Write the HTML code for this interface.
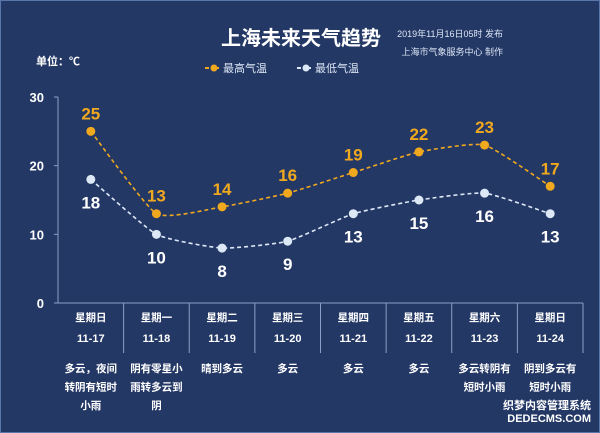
<!DOCTYPE html>
<html><head><meta charset="utf-8">
<style>
html,body{margin:0;padding:0;background:#253a68;}
#wrap{position:relative;width:600px;height:433px;overflow:hidden;background:#243866;box-sizing:border-box;border:1px solid #5a75a8;font-family:"Liberation Sans","Noto Sans CJK SC",sans-serif;}
svg{position:absolute;left:0;top:0;}
</style></head><body>
<div id="wrap">
<svg id="chart" width="600" height="433">
<text x="300" y="44" fill="#fff" font-size="20" font-weight="bold" text-anchor="middle">上海未来天气趋势</text>
<text x="502" y="36" fill="#dde6f5" font-size="9" text-anchor="end">2019年11月16日05时 发布</text>
<text x="502" y="54" fill="#dde6f5" font-size="9" text-anchor="end">上海市气象服务中心 制作</text>
<text x="35" y="64" fill="#fff" font-size="11" font-weight="bold">单位：℃</text>
<g>
<line x1="204" y1="67" x2="218" y2="67" stroke="#f0a81e" stroke-width="2" stroke-dasharray="4,2"/>
<circle cx="213" cy="67" r="3.5" fill="#f0a81e"/>
<text x="222" y="71" fill="#dde6f5" font-size="11">最高气温</text>
</g>
<g>
<line x1="296" y1="67" x2="310" y2="67" stroke="#dce8f5" stroke-width="2" stroke-dasharray="4,2"/>
<circle cx="305" cy="67" r="3.5" fill="#dce8f5"/>
<text x="314" y="71" fill="#dde6f5" font-size="11">最低气温</text>
</g>
<g id="axes"></g>
<g id="marks"></g>
</svg>
<div style="position:absolute;right:8px;bottom:6px;color:#fff;font-size:11px;line-height:13px;text-align:right;font-weight:bold">织梦内容管理系统<br>DEDECMS.COM</div>
</div>
<script>
const days=["星期日","星期一","星期二","星期三","星期四","星期五","星期六","星期日"];
const dates=["11-17","11-18","11-19","11-20","11-21","11-22","11-23","11-24"];
const highs=[25,13,14,16,19,22,23,17];
const lows=[18,10,8,9,13,15,16,13];
const yTicks=[0,10,20,30];
const descs=[["多云，夜间","转阴有短时","小雨"],["阴有零星小","雨转多云到","阴"],["晴到多云"],["多云"],["多云"],["多云"],["多云转阴有","短时小雨"],["阴到多云有","短时小雨"]];

const NS="http://www.w3.org/2000/svg";
const x0=57,x1=582,y0=302,yTop=96;
const colW=(x1-x0)/days.length;
function xs(i){return x0+colW*(i+0.5);}
function ys(v){return y0-(y0-yTop)*v/30;}
function mk(tag,attrs,parent,text){const e=document.createElementNS(NS,tag);for(const k in attrs)e.setAttribute(k,attrs[k]);if(text!==undefined)e.textContent=text;parent.appendChild(e);return e;}
const axes=document.getElementById('axes'),marks=document.getElementById('marks');
let e=mk('line',{x1:x0,y1:yTop,x2:x0,y2:y0,stroke:'#8aa0c8','stroke-width':1},axes);


e=mk('line',{x1:x0-4,y1:y0,x2:x1,y2:y0,stroke:'#8aa0c8','stroke-width':1},axes);


yTicks.forEach(t=>{
  mk('line',{x1:x0-4,y1:ys(t),x2:x0,y2:ys(t),stroke:'#8aa0c8'},axes);
  e=mk('text',{x:43,y:ys(t)+5,fill:'#fff','font-size':13,'font-weight':'bold','text-anchor':'end'},axes,t);
  
  
});
for(let i=1;i<=days.length;i++){
  mk('line',{x1:x0+colW*i,y1:y0,x2:x0+colW*i,y2:352,stroke:'#8aa0c8'},axes);
}
days.forEach((d,i)=>{
  e=mk('text',{x:xs(i),y:320,fill:'#fff','font-size':10.5,'font-weight':'bold','text-anchor':'middle'},axes,d);
  
  
  e=mk('text',{x:xs(i),y:341,fill:'#fff','font-size':11,'font-weight':'bold','text-anchor':'middle'},axes,dates[i]);
  
  
  descs[i].forEach((l,j)=>{
    e=mk('text',{x:xs(i),y:371+j*18.5,fill:'#fff','font-size':10.5,'font-weight':'bold','text-anchor':'middle'},axes,l);
    
    
  });
});
function smoothPath(pts){
  let d='M'+pts[0][0]+','+pts[0][1];
  const t=0.08;
  for(let i=0;i<pts.length-1;i++){
    const p0=pts[Math.max(i-1,0)],p1=pts[i],p2=pts[i+1],p3=pts[Math.min(i+2,pts.length-1)];
    const c1=[p1[0]+(p2[0]-p0[0])*t,p1[1]+(p2[1]-p0[1])*t];
    const c2=[p2[0]-(p3[0]-p1[0])*t,p2[1]-(p3[1]-p1[1])*t];
    d+=' C'+c1[0]+','+c1[1]+' '+c2[0]+','+c2[1]+' '+p2[0]+','+p2[1];
  }
  return d;
}
function series(vals,color,name,above,labColor){
  e=mk('path',{d:smoothPath(vals.map((v,i)=>[xs(i),ys(v)])),fill:'none',stroke:color,'stroke-width':1.6,'stroke-dasharray':'4,3'},marks);
  
  
  vals.forEach((v,i)=>{
    e=mk('circle',{cx:xs(i),cy:ys(v),r:4.5,fill:color},marks);
    
    
    e=mk('text',{x:xs(i),y:above?ys(v)-12:ys(v)+29,fill:labColor,'font-size':17,'font-weight':'bold','text-anchor':'middle'},marks,v);
    
    
  });
}
series(lows,'#dce8f5','low-temp',false,'#fff');
series(highs,'#f0a81e','high-temp',true,'#f0a81e');
</script>
</body></html>
